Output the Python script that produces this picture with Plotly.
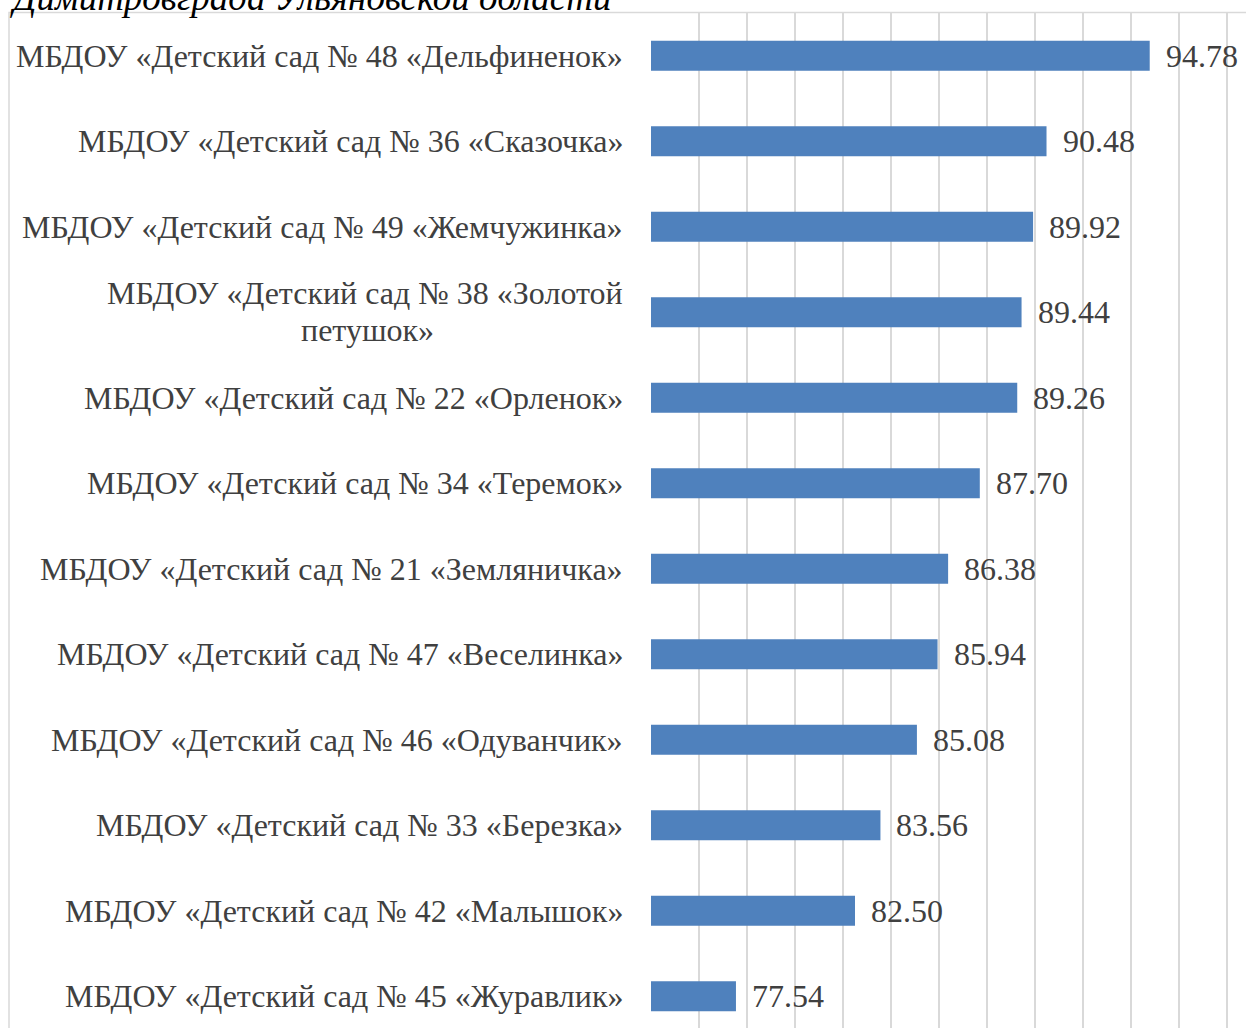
import plotly.graph_objects as go

categories = [
    "МБДОУ «Детский сад № 48 «Дельфиненок»",
    "МБДОУ «Детский сад № 36 «Сказочка»",
    "МБДОУ «Детский сад № 49 «Жемчужинка»",
    "МБДОУ «Детский сад № 38 «Золотой<br>петушок»",
    "МБДОУ «Детский сад № 22 «Орленок»",
    "МБДОУ «Детский сад № 34 «Теремок»",
    "МБДОУ «Детский сад № 21 «Земляничка»",
    "МБДОУ «Детский сад № 47 «Веселинка»",
    "МБДОУ «Детский сад № 46 «Одуванчик»",
    "МБДОУ «Детский сад № 33 «Березка»",
    "МБДОУ «Детский сад № 42 «Малышок»",
    "МБДОУ «Детский сад № 45 «Журавлик»",
]
values = [94.78, 90.48, 89.92, 89.44, 89.26, 87.70, 86.38, 85.94, 85.08, 83.56, 82.50, 77.54]
value_labels = ["94.78", "90.48", "89.92", "89.44", "89.26", "87.70", "86.38", "85.94", "85.08", "83.56", "82.50", "77.54"]
heading = "Димитровграда Ульяновской области"

W, H = 1246, 1028
ML, MR, MT, MB = 651, 0, 13, 0
plot_w = W - ML - MR
plot_h = H - MT - MB
px_per_unit = 24.0
x0 = 74
x_range = [x0, x0 + plot_w / px_per_unit]
cat_px = 85.5
y_range = [-0.5 + plot_h / cat_px, -0.5]

FONT = "Liberation Serif, Times New Roman, serif"
TXT = "#404040"
LINE_SP = 37

ypos = list(range(len(categories)))

fig = go.Figure()
fig.add_trace(go.Bar(
    x=values, y=ypos, orientation="h",
    marker=dict(color="#4F81BD", line=dict(width=0)),
    width=30 / cat_px,
    hoverinfo="skip",
))

# value labels
for yv, v, t in zip(ypos, values, value_labels):
    fig.add_annotation(x=v, y=yv, xref="x", yref="y", text=t, showarrow=False,
                       xanchor="left", yanchor="middle", xshift=14, yshift=0,
                       font=dict(family=FONT, size=32, color=TXT))

# category labels (multi-line labels centred, with tighter line spacing)
for yv, c in zip(ypos, categories):
    lines = c.split("<br>")
    n = len(lines)
    if n == 1:
        fig.add_annotation(x=0, y=yv, xref="paper", yref="y", text=c, showarrow=False,
                           xanchor="right", yanchor="middle", xshift=-26,
                           font=dict(family=FONT, size=32, color=TXT))
    else:
        for i, ln in enumerate(lines):
            shift = ((n - 1) / 2 - i) * LINE_SP
            if i == 0:
                fig.add_annotation(x=0, y=yv, xref="paper", yref="y", text=ln, showarrow=False,
                                   xanchor="right", yanchor="middle", xshift=-26, yshift=shift + 1,
                                   font=dict(family=FONT, size=32, color=TXT))
            else:
                # centred under the first line (first line spans ~515 px)
                fig.add_annotation(x=0, y=yv, xref="paper", yref="y", text=ln, showarrow=False,
                                   xanchor="center", yanchor="middle", xshift=-26 - 515 / 2,
                                   yshift=shift + 1,
                                   font=dict(family=FONT, size=32, color=TXT))

# heading text above chart (cropped at the top, as in the source)
fig.add_annotation(x=(614 - ML) / plot_w, y=1, xref="paper", yref="paper",
                   text="<i>" + heading + "</i>",
                   showarrow=False, xanchor="right", yanchor="bottom", yshift=-7,
                   font=dict(family=FONT, size=37, color="#000000"))

# chart border
fig.add_shape(type="rect", xref="paper", yref="paper",
              x0=(9 - ML) / plot_w, x1=1.05, y0=-0.05, y1=1 + 0.5 / plot_h,
              line=dict(color="#D9D9D9", width=1.5), fillcolor="rgba(0,0,0,0)", layer="below")

fig.update_layout(
    width=W, height=H,
    margin=dict(l=ML, r=MR, t=MT, b=MB, pad=0),
    paper_bgcolor="white", plot_bgcolor="white",
    showlegend=False,
    bargap=0.65,
    xaxis=dict(range=x_range, tick0=x0, dtick=2, showgrid=True, gridcolor="#D9D9D9",
               gridwidth=1.5, showticklabels=False, zeroline=False, showline=False, ticks=""),
    yaxis=dict(range=y_range, showgrid=False, showticklabels=False, zeroline=False,
               showline=False, ticks=""),
)

fig.write_html("out.html", config={"displayModeBar": False},
               post_script="document.body.style.margin='0';document.body.style.overflow='hidden';")
